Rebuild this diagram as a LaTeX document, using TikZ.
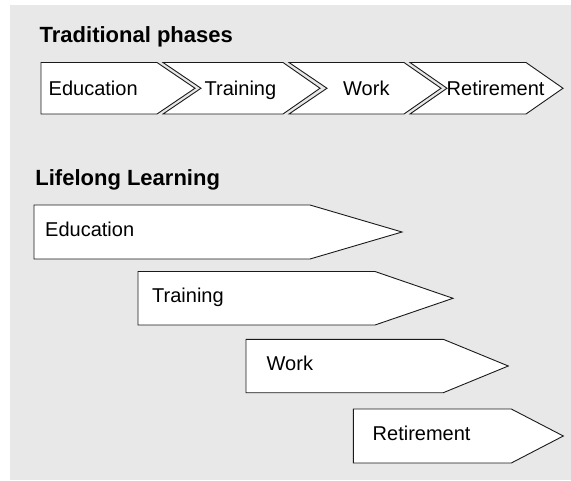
\documentclass[tikz,border=0pt]{standalone}
\usepackage{fontspec}
\setmainfont{Liberation Sans}
\definecolor{bgcol}{HTML}{E8E8E8}
\definecolor{edgecol}{HTML}{1A1A1A}
\begin{document}
\begin{tikzpicture}[x=1pt,y=-1pt,
  arrowbox/.style={draw=edgecol, fill=white, line width=0.9pt, line join=miter},
  lbl/.style={anchor=base west, inner sep=0pt, font=\fontsize{20}{23}\selectfont},
  ttl/.style={anchor=base west, inner sep=0pt, font=\fontsize{22}{25}\selectfont\bfseries}]
\useasboundingbox (0,0) rectangle (571,480);
\fill[bgcol] (10,5) rectangle (571,480);

% Traditional phases
\node[ttl] (t1) at (39.5,42) {Traditional phases};
\draw[arrowbox] (41,62.5) -- (157,62.5) -- (195,88.25) -- (157,114) -- (41,114) -- cycle;
\draw[arrowbox] (163,62.5) -- (283,62.5) -- (320,88.25) -- (283,114) -- (163,114) -- (201,88.25) -- cycle;
\draw[arrowbox] (289,62.5) -- (404,62.5) -- (441,88.25) -- (404,114) -- (289,114) -- (327,88.25) -- cycle;
\draw[arrowbox] (410,62.5) -- (526,62.5) -- (563,88.25) -- (526,114) -- (410,114) -- (447,88.25) -- cycle;
\node[lbl] (te) at (48.5,95) {Education};
\node[lbl] (tt) at (204.5,95) {Training};
\node[lbl] (tw) at (343,95) {Work};
\node[lbl] (tr) at (446.5,95) {Retirement};

% Lifelong Learning
\node[ttl] (t2) at (35.2,185) {Lifelong Learning};
\draw[arrowbox] (34,205) -- (310,205) -- (402,232) -- (310,259) -- (34,259) -- cycle;
\draw[arrowbox] (138,271.5) -- (375,271.5) -- (453,298.3) -- (375,325) -- (138,325) -- cycle;
\draw[arrowbox] (246,339.3) -- (443.3,339.3) -- (508.3,366) -- (443.3,392.7) -- (246,392.7) -- cycle;
\draw[arrowbox] (353.3,409) -- (511.3,409) -- (563.3,436) -- (511.3,463) -- (353.3,463) -- cycle;
\node[lbl] (le) at (45,236) {Education};
\node[lbl] (lt) at (152,302.7) {Training};
\node[lbl] (lw) at (266.5,370.7) {Work};
\node[lbl] (lr) at (372.5,440.7) {Retirement};
\end{tikzpicture}
\end{document}
